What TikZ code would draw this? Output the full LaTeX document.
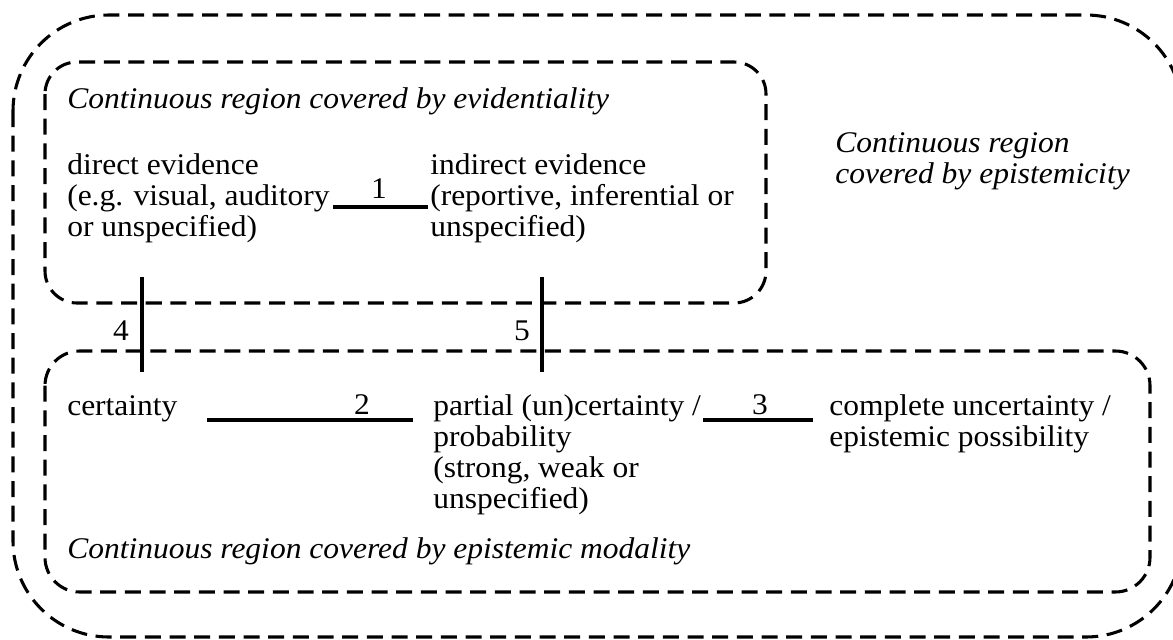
\documentclass[tikz,border=0pt]{standalone}
\usepackage{fontspec}
\setmainfont[FakeStretch=1.05]{Liberation Serif}
\begin{document}
\begin{tikzpicture}[x=0.75pt,y=-0.75pt,
  region/.style={draw, line width=2.3pt, dash pattern=on 12pt off 6.5pt},
  link/.style={line width=3.6pt},
  txt/.style={anchor=base west, inner sep=0pt, align=left, font=\fontsize{22.5}{23.25}\selectfont},
  ttl/.style={txt, font=\fontsize{22.5}{23.25}\selectfont\itshape},
  num/.style={anchor=base, inner sep=0pt, font=\fontsize{22.5}{23.25}\selectfont}]
\useasboundingbox (0,0) rectangle (1173,639);
\clip (0,0) rectangle (1173,639);
% regions
\draw[region, rounded corners=72pt] (13,15) rectangle (1182,637);
\draw[region, rounded corners=24pt] (45,62) rectangle (766,303);
\draw[region, rounded corners=26pt] (45,351) rectangle (1150,592);
% texts (multi-line nodes are placed at the baseline of their last line)
\node[ttl] (hevid) at (67,108) {Continuous region covered by evidentiality};
\node[txt] (direct) at (67,236) {direct evidence\\(e.g. visual, auditory\\or unspecified)};
\node[txt] (indirect) at (430,236) {indirect evidence\\(reportive, inferential or\\unspecified)};
\node[ttl] (hepist) at (835,183) {Continuous region\\covered by epistemicity};
\node[txt] (cert) at (67,415) {certainty};
\node[txt] (partial) at (433,508) {partial (un)certainty /\\probability\\(strong, weak or\\unspecified)};
\node[txt] (compl) at (829,446) {complete uncertainty /\\epistemic possibility};
\node[ttl] (hmod) at (67,558) {Continuous region covered by epistemic modality};
% connectors
\coordinate (l1a) at (333,207); \coordinate (l1b) at (428,207);
\coordinate (l2a) at (207,420); \coordinate (l2b) at (413,420);
\coordinate (l3a) at (703,420); \coordinate (l3b) at (813,420);
\coordinate (l4a) at (142,277); \coordinate (l4b) at (142,372);
\coordinate (l5a) at (542,277); \coordinate (l5b) at (542,372);
\draw[link] (l1a) -- (l1b);
\draw[link] (l2a) -- (l2b);
\draw[link] (l3a) -- (l3b);
\draw[link] (l4a) -- (l4b);
\draw[link] (l5a) -- (l5b);
\node[num] (n1) at (379,198) {1};
\node[num] (n2) at (362,414) {2};
\node[num] (n3) at (760,414) {3};
\node[num] (n4) at (121,340) {4};
\node[num] (n5) at (522,340) {5};
\end{tikzpicture}
\end{document}
